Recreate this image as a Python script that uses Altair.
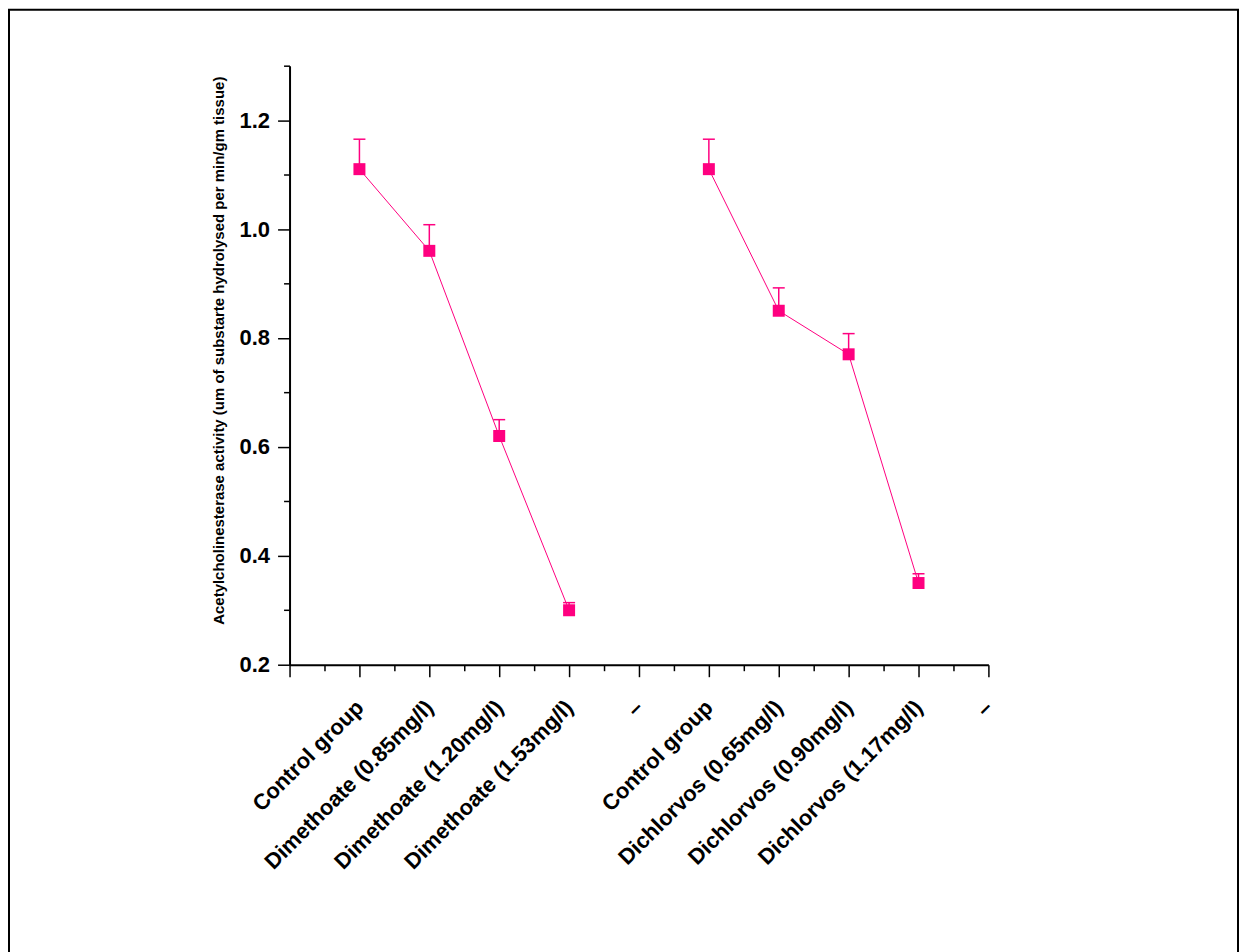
import json
import altair as alt
import pandas as pd

# ---- data ----
x_labels = ["Control group", "Dimethoate (0.85mg/l)", "Dimethoate (1.20mg/l)",
            "Dimethoate (1.53mg/l)", "\u2013", "Control group",
            "Dichlorvos (0.65mg/l)", "Dichlorvos (0.90mg/l)",
            "Dichlorvos (1.17mg/l)", "\u2013"]
series = ["Dimethoate"] * 4 + ["Dichlorvos"] * 4
positions = [1, 2, 3, 4, 6, 7, 8, 9]
values = [1.11, 0.96, 0.62, 0.30, 1.11, 0.85, 0.77, 0.35]
errors = [0.055, 0.048, 0.030, 0.014, 0.055, 0.042, 0.038, 0.017]
y_title = "Acetylcholinesterase activity (um of substarte hydrolysed per min/gm tissue)"

df = pd.DataFrame({"series": series, "pos": positions, "value": values, "err": errors})
df["upper"] = df["value"] + df["err"]

PINK = "#FF0080"
FONT = "Liberation Sans"
W, H = 1231, 960
x_range = [281, 981]
y_range = [656, 56]

label_js = json.dumps([""] + x_labels, ensure_ascii=False)
x_ticks = [i * 0.5 for i in range(21)]
y_ticks = [round(0.2 + 0.1 * i, 1) for i in range(12)]

x_scale = alt.Scale(domain=[0, 10], range=x_range, nice=False, zero=False)
y_scale = alt.Scale(domain=[0.2, 1.3], range=y_range, nice=False, zero=False)

x_axis = alt.Axis(
    title=None, values=x_ticks,
    labelExpr=f"datum.value % 1 == 0 ? {label_js}[datum.value] : ''",
    labelAngle=-45, labelAlign="right", labelBaseline="middle",
    labelFontSize=22, labelFont=FONT, labelFontWeight="bold", labelColor="black",
    labelPadding=27, labelOverlap=False, labelBound=False, labelFlush=False,
    labelLimit=0,
    tickSize={"condition": {"test": "datum.value % 1 == 0", "value": 12}, "value": 6},
    tickColor="black", tickWidth=1.5, domainColor="black", domainWidth=2,
    grid=False, offset=-304,
)
y_axis = alt.Axis(
    title=y_title, values=y_ticks,
    labelExpr="round(datum.value * 10) % 2 == 0 ? format(datum.value, '.1f') : ''",
    labelFontSize=22, labelFont=FONT, labelFontWeight="bold", labelColor="black",
    labelPadding=8, labelOverlap=False, labelBound=False, labelFlush=False,
    labelLimit=0,
    tickSize={"condition": {"test": "round(datum.value * 10) % 2 == 0", "value": 12}, "value": 6},
    tickColor="black", tickWidth=1.5, domainColor="black", domainWidth=2,
    grid=False, offset=-281,
    titleFont=FONT, titleFontSize=15, titleFontWeight="bold", titleColor="black",
    titleAngle=270, titleX=-71, titleY=341, titleAlign="center", titleBaseline="middle",
    titleLimit=0,
)

base = alt.Chart(df)
xenc = alt.X("pos:Q", scale=x_scale, axis=x_axis)
yenc = alt.Y("value:Q", scale=y_scale, axis=y_axis)

lines = base.mark_line(color=PINK, strokeWidth=1).encode(x=xenc, y=yenc, detail="series:N")
err_rule = base.mark_rule(color=PINK, strokeWidth=1.5).encode(x=xenc, y=yenc, y2="upper:Q")
caps = base.mark_rule(color=PINK, strokeWidth=1.5, xOffset=-6, x2Offset=6).encode(
    x=xenc, x2="pos:Q", y=alt.Y("upper:Q", scale=y_scale, axis=y_axis))
points = base.mark_square(color=PINK, size=144, opacity=1).encode(x=xenc, y=yenc)

chart = alt.layer(lines, err_rule, caps, points).properties(
    width=W, height=H, padding=1,
    autosize=alt.AutoSizeParams(type="none"),
    background="white",
).configure_view(stroke="black", strokeWidth=2)

chart.save("out.html", embed_options={"renderer": "svg", "actions": False})
